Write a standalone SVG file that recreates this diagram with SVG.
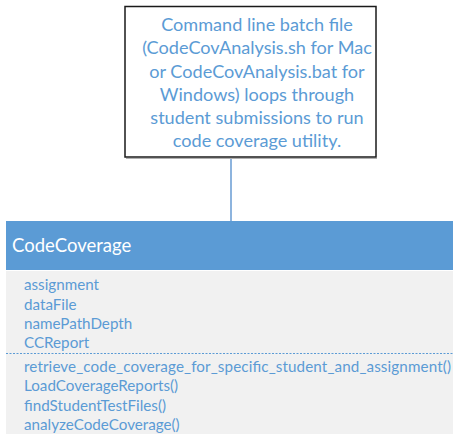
<svg xmlns="http://www.w3.org/2000/svg" width="453" height="434" viewBox="0 0 453 434">
<style>
.note{font-family:Lato,"Liberation Sans",sans-serif;font-size:18.1px;fill:#5b9bd5;text-anchor:middle}
.hdr{font-family:Lato,"Liberation Sans",sans-serif;font-size:18.5px;fill:#ffffff}
.mem{font-family:Lato,"Liberation Sans",sans-serif;font-size:15.2px;fill:#5b9bd5}
</style>
<rect width="453" height="434" fill="#ffffff"/>
<g id="connectors">
<line x1="231" y1="158" x2="231" y2="221" stroke="#8db4de" stroke-width="2"/>
</g>
<g id="note">
<line x1="126" y1="158.5" x2="377" y2="158.5" stroke="#b0b0b0" stroke-width="1"/>
<rect x="125" y="6.5" width="251" height="150.5" fill="#ffffff" stroke="#1a1a1a" stroke-width="1.5"/>
<text class="note" x="257" y="31">Command line batch file</text>
<text class="note" x="257" y="54">(CodeCovAnalysis.sh for Mac</text>
<text class="note" x="257" y="77.5">or CodeCovAnalysis.bat for</text>
<text class="note" x="257" y="100.5">Windows) loops through</text>
<text class="note" x="257" y="124">student submissions to run</text>
<text class="note" x="257" y="147">code coverage utility.</text>
</g>
<g id="CodeCoverage">
<rect x="6" y="221" width="447" height="49" fill="#5b9bd5"/>
<rect x="6" y="271" width="447" height="163" fill="#f1f1f1"/>
<text class="hdr" x="12" y="252">CodeCoverage</text>
<text class="mem" x="24" y="290">assignment</text>
<text class="mem" x="24" y="309.5">dataFile</text>
<text class="mem" x="24" y="329">namePathDepth</text>
<text class="mem" x="24" y="348">CCReport</text>
<line x1="6" y1="353.5" x2="453" y2="353.5" stroke="#5b9bd5" stroke-width="1" stroke-dasharray="2,1.5"/>
<text class="mem" x="24" y="371.5" textLength="427" lengthAdjust="spacing">retrieve_code_coverage_for_specific_student_and_assignment()</text>
<text class="mem" x="24" y="391">LoadCoverageReports()</text>
<text class="mem" x="24" y="410.5">findStudentTestFiles()</text>
<text class="mem" x="24" y="430">analyzeCodeCoverage()</text>
</g>
</svg>
